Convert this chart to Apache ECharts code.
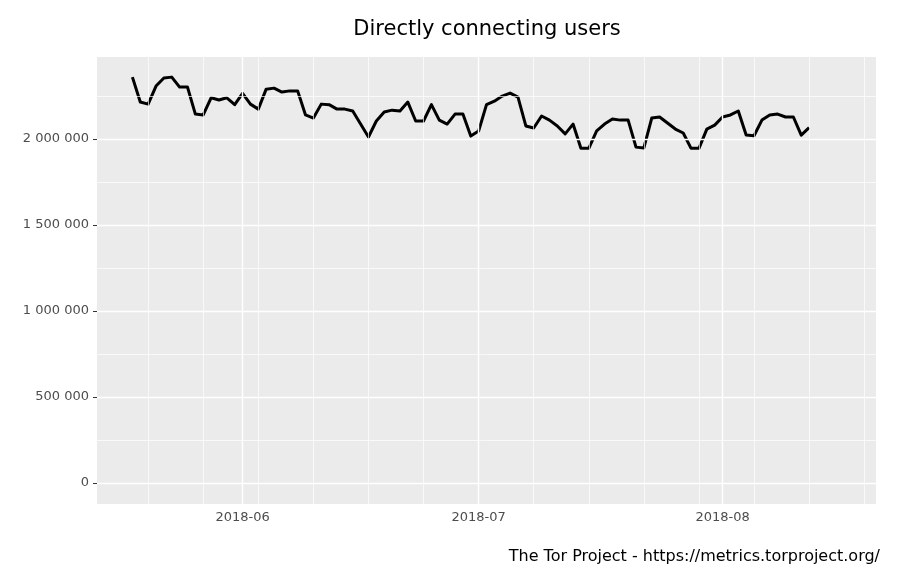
<!DOCTYPE html>
<html>
<head>
<meta charset="utf-8">
<title>Directly connecting users</title>
<script src="https://cdn.jsdelivr.net/npm/echarts@6/dist/echarts.min.js"></script>
<style>
    html, body { margin: 0; padding: 0; background: #fff; }
    #main { width: 902px; height: 576px; }
</style>
</head>
<body>
<div id="main"></div>
<script>
// 数据：每日直连用户数，从 startDate 起逐日
var startDate = '2018-05-18';
var users = [
    2360000, 2215000, 2203000, 2308000, 2355000, 2360000, 2302000, 2302000, 2145000, 2140000, 2240000, 2227000, 2240000, 2200000,
    2266000, 2203000, 2174000, 2290000, 2296000, 2273000, 2280000, 2280000, 2140000, 2122000, 2203000, 2200000, 2174000, 2174000, 2163000,
    2087000, 2012000, 2105000, 2157000, 2168000, 2163000, 2215000, 2105000, 2105000, 2200000, 2110000, 2087000, 2145000, 2145000, 2017000,
    2047000, 2200000, 2220000, 2250000, 2267000, 2244000, 2076000, 2064000, 2134000, 2110000, 2076000, 2030000, 2087000, 1946000, 1946000,
    2047000, 2087000, 2116000, 2110000, 2110000, 1953000, 1948000, 2122000, 2128000, 2093000, 2058000, 2035000, 1946000, 1946000, 2058000, 2081000,
    2128000, 2140000, 2163000, 2023000, 2019000, 2110000, 2140000, 2145000, 2128000, 2128000, 2023000, 2066000
];

// 坐标轴刻度
var yTicks = [0, 500000, 1000000, 1500000, 2000000];
var yMinorTicks = [250000, 750000, 1250000, 1750000, 2250000];
var xTicks = ['2018-06-01', '2018-07-01', '2018-08-01'];
var xMinorTicks = ['2018-05-20', '2018-05-27', '2018-06-03', '2018-06-10', '2018-06-17', '2018-06-24', '2018-07-01',
    '2018-07-08', '2018-07-15', '2018-07-22', '2018-07-29', '2018-08-05', '2018-08-12', '2018-08-19'];
var xRange = ['2018-05-13T12:00', '2018-08-20T12:00'];
var yRange = [-122000, 2477000];

var titleText = 'Directly connecting users';
var captionText = 'The Tor Project - https://metrics.torproject.org/';

function toTime(s) {
    var p = s.split(/[-T:]/);
    return Date.UTC(+p[0], +p[1] - 1, +p[2], +(p[3] || 0), +(p[4] || 0));
}

function spaced(v) {
    return String(v).replace(/\B(?=(\d{3})+(?!\d))/g, ' ');
}

function monthLabel(v) {
    var d = new Date(v);
    var m = d.getUTCMonth() + 1;
    return d.getUTCFullYear() + '-' + (m < 10 ? '0' + m : m);
}

var DAY = 24 * 3600 * 1000;
var t0 = toTime(startDate);
var lineData = [];
for (var i = 0; i < users.length; i++) {
    lineData.push([t0 + i * DAY, users[i]]);
}

// 网格线（ggplot 风格，白色）
var gridLines = [];
yMinorTicks.forEach(function (v) { gridLines.push({yAxis: v, lineStyle: {width: 0.7}}); });
xMinorTicks.forEach(function (d) { gridLines.push({xAxis: toTime(d), lineStyle: {width: 0.7}}); });
yTicks.forEach(function (v) { gridLines.push({yAxis: v, lineStyle: {width: 1.4}}); });
xTicks.forEach(function (d) { gridLines.push({xAxis: toTime(d), lineStyle: {width: 1.4}}); });

var font = 'DejaVu Sans';
var chart = echarts.init(document.getElementById('main'));
chart.setOption({
    animation: false,
    backgroundColor: '#ffffff',
    title: [
        {
            text: titleText,
            left: 487,
            top: 19,
            padding: 0,
            textAlign: 'center',
            textStyle: {fontFamily: font, fontSize: 21, fontWeight: 'normal', color: '#000'}
        },
        {
            text: captionText,
            right: 22,
            top: 549,
            padding: 0,
            textStyle: {fontFamily: font, fontSize: 16, fontWeight: 'normal', color: '#000'}
        }
    ],
    grid: {
        left: 97, right: 26, top: 57, bottom: 72,
        show: true, backgroundColor: '#EBEBEB', borderWidth: 0
    },
    xAxis: {
        type: 'value',
        min: toTime(xRange[0]),
        max: toTime(xRange[1]),
        axisLine: {show: false},
        splitLine: {show: false},
        axisTick: {show: true, length: 4, customValues: xTicks.map(toTime), lineStyle: {color: '#333', width: 1}},
        axisLabel: {
            customValues: xTicks.map(toTime),
            margin: 7,
            fontFamily: font, fontSize: 13, color: '#4D4D4D',
            formatter: monthLabel
        }
    },
    yAxis: {
        type: 'value',
        min: yRange[0],
        max: yRange[1],
        axisLine: {show: false},
        splitLine: {show: false},
        axisTick: {show: true, length: 4, customValues: yTicks, lineStyle: {color: '#333', width: 1}},
        axisLabel: {
            customValues: yTicks,
            margin: 8,
            fontFamily: font, fontSize: 13, color: '#4D4D4D',
            formatter: spaced
        }
    },
    series: [
        {
            name: 'grid',
            type: 'line',
            z: 1,
            data: [],
            silent: true,
            markLine: {
                silent: true,
                symbol: 'none',
                animation: false,
                label: {show: false},
                lineStyle: {color: '#ffffff', type: 'solid'},
                data: gridLines
            }
        },
        {
            name: 'users',
            type: 'line',
            z: 3,
            data: lineData,
            showSymbol: false,
            lineStyle: {color: '#000', width: 3, join: 'round'}
        }
    ]
});
</script>
</body>
</html>
